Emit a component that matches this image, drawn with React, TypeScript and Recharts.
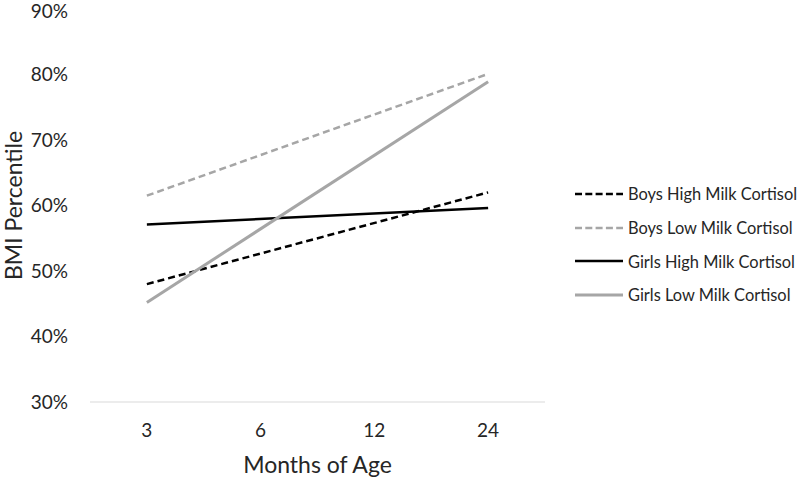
import { LineChart, Line, XAxis, YAxis, Label } from 'recharts';

const months = ['3', '6', '12', '24'];
const boysHigh = [48.0, null, null, 62.0];
const boysLow = [61.5, null, null, 80.1];
const girlsHigh = [57.1, null, null, 59.6];
const girlsLow = [45.2, null, null, 78.9];
const yTicks = [30, 40, 50, 60, 70, 80, 90];

const FONT = 'Lato, "Open Sans", sans-serif';
const TEXT = '#262626';
const GRAY = '#a6a6a6';

const SERIES = [
    { key: 'boysHigh', name: 'Boys High Milk Cortisol', color: '#000000', dash: '7 4', width: 2.5 },
    { key: 'boysLow', name: 'Boys Low Milk Cortisol', color: GRAY, dash: '7 4', width: 2.5 },
    { key: 'girlsHigh', name: 'Girls High Milk Cortisol', color: '#000000', dash: undefined, width: 2.5 },
    { key: 'girlsLow', name: 'Girls Low Milk Cortisol', color: GRAY, dash: undefined, width: 3 },
];

const data = months.map((m, i) => ({
    month: m,
    boysHigh: boysHigh[i],
    boysLow: boysLow[i],
    girlsHigh: girlsHigh[i],
    girlsLow: girlsLow[i],
}));

function ChartLegend() {
    return (
        <div style={{ position: 'absolute', left: 575, top: 177, fontFamily: FONT, fontSize: 16.4, color: TEXT }}>
            {SERIES.map(s => (
                <div key={s.key} style={{ display: 'flex', alignItems: 'center', height: 33.7, whiteSpace: 'nowrap' }}>
                    <svg width={48} height={6} style={{ marginRight: 5 }}>
                        <line x1={0} y1={3} x2={48} y2={3} stroke={s.color} strokeWidth={s.width} strokeDasharray={s.dash ? '7 3.3' : undefined} />
                    </svg>
                    <span>{s.name}</span>
                </div>
            ))}
        </div>
    );
}

export default function App() {
    return (
        <div style={{ position: 'absolute', left: 0, top: 0, width: 800, height: 478, background: '#fff' }}>
            <LineChart width={800} height={478} data={data} margin={{ top: 9, right: 255, bottom: 0, left: 0 }}>
                <XAxis
                    dataKey="month"
                    padding={{ left: 56.875, right: 56.875 }}
                    axisLine={{ stroke: '#d9d9d9', strokeWidth: 1 }}
                    tickLine={false}
                    tickSize={0}
                    tickMargin={22}
                    height={76}
                    tick={{ fontSize: 19, fill: TEXT, fontFamily: FONT }}
                >
                    <Label value="Months of Age" position="insideBottom" offset={5}
                        style={{ fontSize: 23, fill: TEXT, fontFamily: FONT }} />
                </XAxis>
                <YAxis
                    width={90}
                    domain={[30, 90]}
                    ticks={yTicks}
                    tickFormatter={(v: number) => `${v}%`}
                    axisLine={false}
                    tickLine={false}
                    tickSize={0}
                    tickMargin={22}
                    tick={{ fontSize: 19, fill: TEXT, fontFamily: FONT }}
                >
                    <Label
                        content={(props: any) => {
                            const vb = props.viewBox || { x: 0, y: 9, width: 90, height: 393 };
                            const cx = vb.x + 13;
                            const cy = vb.y + vb.height / 2;
                            return (
                                <text x={cx} y={cy} transform={`rotate(-90 ${cx} ${cy})`} textAnchor="middle"
                                    dominantBaseline="central" style={{ fontSize: 23, fill: TEXT, fontFamily: FONT }}>
                                    BMI Percentile
                                </text>
                            );
                        }}
                    />
                </YAxis>
                {SERIES.map(s => (
                    <Line
                        key={s.key}
                        type="linear"
                        dataKey={s.key}
                        name={s.name}
                        stroke={s.color}
                        strokeWidth={s.width}
                        strokeDasharray={s.dash}
                        dot={false}
                        activeDot={false}
                        connectNulls
                        isAnimationActive={false}
                    />
                ))}
            </LineChart>
            <ChartLegend />
        </div>
    );
}
